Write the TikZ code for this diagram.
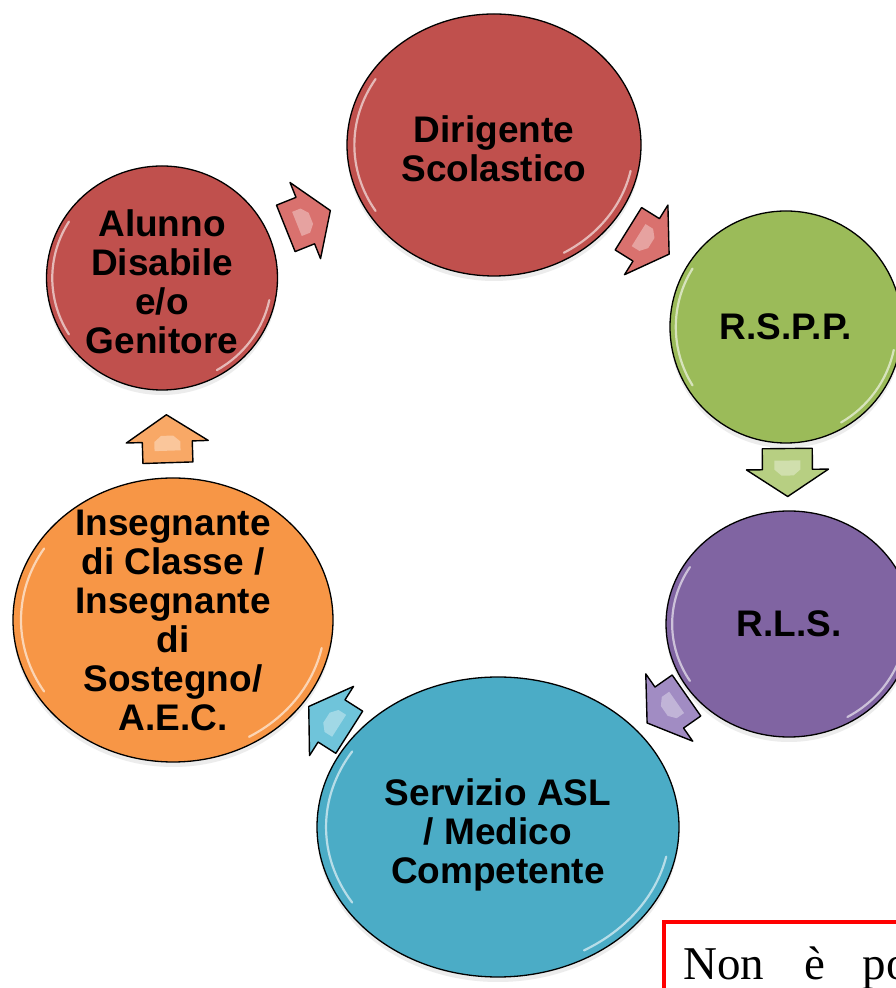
\documentclass[tikz,border=0pt]{standalone}
\usepackage{fontspec}
\setmainfont{Liberation Serif}
\setsansfont{Liberation Sans}
\usetikzlibrary{calc,shapes.geometric,shadows}
\definecolor{ringRed}{HTML}{C0504D}
\definecolor{ringGreen}{HTML}{9BBB59}
\definecolor{ringPurple}{HTML}{8064A2}
\definecolor{ringBlue}{HTML}{4BACC6}
\definecolor{ringOrange}{HTML}{F79646}
\definecolor{arrRed}{HTML}{D9716E}
\definecolor{arrGreen}{HTML}{B7CF82}
\definecolor{arrPurple}{HTML}{A18CC3}
\definecolor{arrBlue}{HTML}{6FC4DA}
\definecolor{arrOrange}{HTML}{F8A866}
\definecolor{boxRed}{HTML}{FF0000}

\tikzset{
  gloss/.style={path picture={
    \draw[white,opacity=.6,line width=2.2pt,line cap=round]
      let \p1=(path picture bounding box.north east),
          \p2=(path picture bounding box.center),
          \n1={0.95*(\x1-\x2)}, \n2={0.95*(\y1-\y2)} in
      ($(\p2)+(148:\n1 and \n2)$) arc[start angle=148,end angle=212,x radius=\n1,y radius=\n2]
      ($(\p2)+(-60:\n1 and \n2)$) arc[start angle=-60,end angle=-12,x radius=\n1,y radius=\n2];
  }},
  bubble/.style={ellipse,draw=black,line width=1.3pt,fill=#1,inner sep=0pt,
    drop shadow={opacity=.15,shadow xshift=0pt,shadow yshift=-5pt},gloss},
  bubbletext/.style={align=center,inner sep=0pt,
    font=\sffamily\bfseries\fontsize{37}{39}\selectfont},
  pics/blockarrow/.style={code={
    \draw[fill=#1,line width=1.4pt,line join=round]
      (-24,-25) -- (-3,-25) -- (-3,-41) -- (24,0) -- (-3,41) -- (-3,25) -- (-24,25) -- cycle;
    \fill[white,opacity=.35] (-12,-13) -- (-3,-13) -- (3,-6) -- (3,6) -- (-3,13) -- (-12,13) -- cycle;
  }}
}

\begin{document}
\begin{tikzpicture}[x=1pt,y=1pt]
  \useasboundingbox (0,0) rectangle (896,988);
  \fill[white] (0,0) rectangle (896,988);

  % the six stations of the cycle
  \node[bubble=ringRed,minimum width=294pt,minimum height=262pt] (dirigente) at (494,843) {};
  \node[bubble=ringGreen,minimum width=232pt,minimum height=232pt] (rspp) at (786,661) {};
  \node[bubble=ringPurple,minimum width=246pt,minimum height=226pt] (rls) at (789,364) {};
  \node[bubble=ringBlue,minimum width=362pt,minimum height=300pt] (servizio) at (498,161) {};
  \node[bubble=ringOrange,minimum width=320pt,minimum height=284pt] (insegnante) at (173,368) {};
  \node[bubble=ringRed,minimum width=231pt,minimum height=224pt] (alunno) at (162,710) {};

  \node[bubbletext] (dirigente-t) at ([yshift=-4pt]dirigente) {Dirigente\\Scolastico};
  \node[bubbletext] (rspp-t) at (rspp) {R.S.P.P.};
  \node[bubbletext] (rls-t) at (rls) {R.L.S.};
  \node[bubbletext] (servizio-t) at ([yshift=-8pt]servizio) {Servizio ASL\\/ Medico\\Competente};
  \node[bubbletext] (insegnante-t) at (insegnante) {Insegnante\\di Classe /\\Insegnante\\di\\Sostegno/\\A.E.C.};
  \node[bubbletext] (alunno-t) at ([yshift=-4pt]alunno) {Alunno\\Disabile\\e/o\\Genitore};

  % block arrows between the stations
  \path (alunno.center) -- pic[pos=.44,sloped,allow upside down]{blockarrow=arrRed} (dirigente.center);
  \path (dirigente.center) -- pic[pos=.53,sloped,allow upside down]{blockarrow=arrRed} (rspp.center);
  \path (rspp.center) -- pic[pos=.49,sloped,allow upside down]{blockarrow=arrGreen} (rls.center);
  \path (rls.center) -- pic[pos=.42,sloped,allow upside down]{blockarrow=arrPurple} (servizio.center);
  \path (servizio.center) -- pic[pos=.52,sloped,allow upside down]{blockarrow=arrBlue} (insegnante.center);
  \path (insegnante.center) -- pic[pos=.53,sloped,allow upside down]{blockarrow=arrOrange} (alunno.center);

  % note box, cut by the page edge
  \draw[boxRed,line width=3.5pt] (664,66) rectangle (920,-20);
  \node[anchor=base west,inner sep=0pt,font=\fontsize{47}{50}\selectfont] (note) at (683,9)
    {Non\hspace{40pt}è\hspace{38pt}po};
\end{tikzpicture}
\end{document}
